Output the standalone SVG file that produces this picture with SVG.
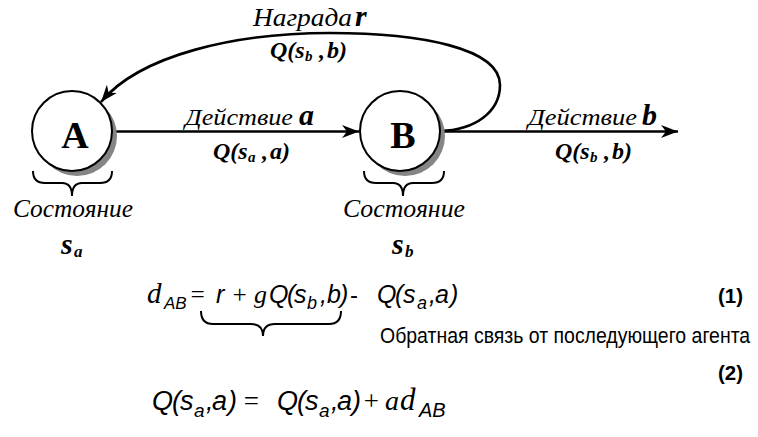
<svg xmlns="http://www.w3.org/2000/svg" width="758" height="437" viewBox="0 0 758 437">
<style>
.ser{font-family:"Liberation Serif","Times New Roman",serif;font-style:italic;fill:#000}
.bi{font-family:"Liberation Serif","Times New Roman",serif;font-style:italic;font-weight:bold;fill:#000}
.big{font-family:"Liberation Serif","Times New Roman",serif;font-weight:bold;font-size:38px;fill:#000}
.sans{font-family:"Liberation Sans",Arial,sans-serif;font-style:italic;fill:#000}
.sansr{font-family:"Liberation Sans",Arial,sans-serif;fill:#000}
.node{fill:#fff;stroke:#000;stroke-width:2}
.shadow{fill:#858585}
.edge{fill:none;stroke:#000;stroke-width:2.6}
.brace{fill:none;stroke:#000;stroke-width:2}
</style>
<defs>
<marker id="arr" markerUnits="userSpaceOnUse" markerWidth="20" markerHeight="14" viewBox="-18 -7 19 14" refX="0" refY="0" orient="auto">
<path d="M0,0 L-17,-6.5 L-12,0 L-17,6.5 Z" fill="#000"/>
</marker>
</defs>

<g id="connectors">
<path class="edge" d="M112,131.5 L359,131.5" marker-end="url(#arr)"/>
<path class="edge" d="M440,131.5 L678,131.5" marker-end="url(#arr)"/>
<path class="edge" d="M440,131 C475,130 500,112 500,85 C500,48 420,33 330,33 C235,33 140,55 101,102" marker-end="url(#arr)"/>
</g>

<g id="node-A">
<circle class="shadow" cx="77" cy="136" r="40"/>
<circle class="node" cx="72" cy="131" r="40"/>
<text class="big" x="75" y="148" text-anchor="middle">A</text>
</g>

<g id="node-B">
<circle class="shadow" cx="405" cy="136" r="40"/>
<circle class="node" cx="400" cy="131" r="40"/>
<text class="big" x="403" y="148" text-anchor="middle">B</text>
</g>

<g id="edge-labels">
<text class="ser" x="253" y="26" font-size="26" textLength="99" lengthAdjust="spacingAndGlyphs">Награда</text>
<text class="bi" x="355" y="26" font-size="30">r</text>
<text class="bi" y="58" font-size="24"><tspan x="270">Q(s</tspan><tspan x="305" y="61" font-size="15">b</tspan><tspan x="319" y="58">,</tspan><tspan x="327">b)</tspan></text>

<text class="ser" x="185" y="125" font-size="24" textLength="108" lengthAdjust="spacingAndGlyphs">Действие</text>
<text class="bi" x="299" y="125" font-size="30">a</text>
<text class="bi" y="159" font-size="24"><tspan x="213">Q(s</tspan><tspan x="248" y="162" font-size="15">a</tspan><tspan x="262" y="159">,</tspan><tspan x="270">a)</tspan></text>

<text class="ser" x="528" y="125" font-size="24" textLength="109" lengthAdjust="spacingAndGlyphs">Действие</text>
<text class="bi" x="642" y="125" font-size="30">b</text>
<text class="bi" y="159" font-size="24"><tspan x="555">Q(s</tspan><tspan x="590" y="162" font-size="15">b</tspan><tspan x="604" y="159">,</tspan><tspan x="612">b)</tspan></text>
</g>

<g id="state-A">
<path class="brace" d="M33,171 Q33,183 45,183 L62,183 Q72,183 72,196 Q72,183 82,183 L100,183 Q112,183 112,171"/>
<text class="ser" x="13" y="217" font-size="26" textLength="120" lengthAdjust="spacingAndGlyphs">Состояние</text>
<text class="bi" x="61" y="254" font-size="30">s</text>
<text class="bi" x="74" y="257" font-size="17">a</text>
</g>

<g id="state-B">
<path class="brace" d="M364,171 Q364,183 376,183 L393,183 Q403,183 403,196 Q403,183 413,183 L432,183 Q444,183 444,171"/>
<text class="ser" x="343" y="217" font-size="26" textLength="122" lengthAdjust="spacingAndGlyphs">Состояние</text>
<text class="bi" x="392" y="254" font-size="30">s</text>
<text class="bi" x="405" y="257" font-size="17">b</text>
</g>

<g id="formula-1">
<text class="ser" x="147" y="303" font-size="29">d</text>
<text class="sans" x="164" y="309" font-size="17">AB</text>
<text class="ser" x="189" y="303" font-size="25" font-style="normal">=</text>
<text class="sans" x="216" y="303" font-size="25">r</text>
<text class="ser" x="231" y="303" font-size="25" font-style="normal">+</text>
<text class="ser" x="254" y="303" font-size="26">g</text>
<text class="sans" y="303" font-size="25"><tspan x="269">Q</tspan><tspan x="287">(</tspan><tspan x="294">s</tspan><tspan x="307" y="309" font-size="18">b</tspan><tspan x="320" y="303">,</tspan><tspan x="327">b</tspan><tspan x="340">)</tspan></text>
<text class="sansr" x="350" y="303" font-size="24">-</text>
<text class="sans" y="303" font-size="25"><tspan x="377">Q</tspan><tspan x="395">(</tspan><tspan x="403">s</tspan><tspan x="417" y="309" font-size="18">a</tspan><tspan x="429" y="303">,</tspan><tspan x="435">a</tspan><tspan x="450">)</tspan></text>
<text class="sansr" x="718" y="303" font-size="21" font-weight="bold" textLength="25" lengthAdjust="spacingAndGlyphs">(1)</text>
<path class="brace" d="M201,311 Q201,324 213,324 L251,324 Q263,324 263,336 Q263,324 275,324 L329,324 Q341,324 341,311"/>
<text class="sansr" transform="translate(380,343) scale(0.885,1)" x="0" y="0" font-size="22">Обратная связь от последующего агента</text>
</g>

<g id="formula-2">
<text class="sansr" x="718" y="380" font-size="21" font-weight="bold" textLength="25" lengthAdjust="spacingAndGlyphs">(2)</text>
<text class="sans" y="410" font-size="27"><tspan x="152">Q</tspan><tspan x="172">(</tspan><tspan x="180">s</tspan><tspan x="194" y="417" font-size="19">a</tspan><tspan x="206" y="410">,</tspan><tspan x="212">a</tspan><tspan x="228">)</tspan></text>
<text class="ser" x="242" y="410" font-size="27" font-style="normal">=</text>
<text class="sans" y="410" font-size="27"><tspan x="277">Q</tspan><tspan x="297">(</tspan><tspan x="305">s</tspan><tspan x="319" y="417" font-size="19">a</tspan><tspan x="331" y="410">,</tspan><tspan x="337">a</tspan><tspan x="352">)</tspan></text>
<text class="ser" x="362" y="410" font-size="27" font-style="normal">+</text>
<text class="ser" x="385" y="410" font-size="28">a</text>
<text class="ser" x="400" y="410" font-size="31">d</text>
<text class="sans" x="419" y="417" font-size="20">AB</text>
</g>
</svg>
